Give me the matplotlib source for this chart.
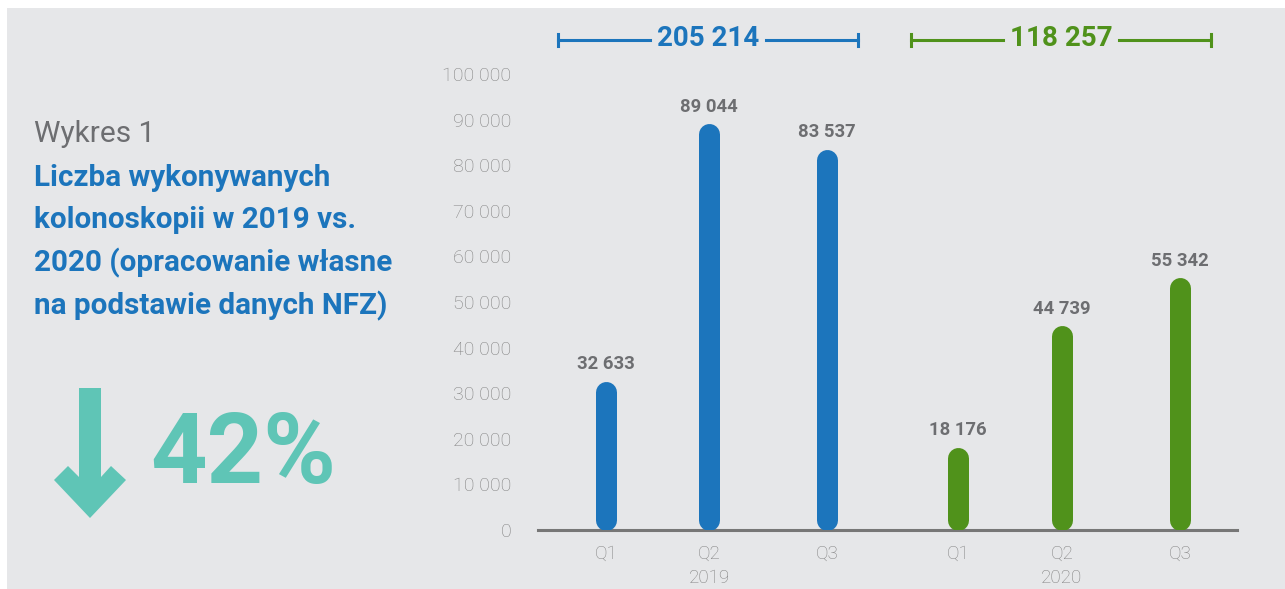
import matplotlib.pyplot as plt
from matplotlib.patches import Rectangle, Polygon

quarters = ['Q1', 'Q2', 'Q3', 'Q1', 'Q2', 'Q3']
years = ['2019', '2020']
values_2019 = [32633, 89044, 83537]
values_2020 = [18176, 44739, 55342]
totals = ['205 214', '118 257']
yticks = [0, 10000, 20000, 30000, 40000, 50000, 60000, 70000, 80000, 90000, 100000]

blue = '#1c75bc'
green = '#50921b'
teal = '#5fc5b6'
bg = '#e6e7e9'
grey = '#828282'

W, H = 1285, 589
fig = plt.figure(figsize=(W / 100, H / 100), dpi=100)
fig.patch.set_facecolor('white')
fig.patches.append(Rectangle((7 / W, 0), 1, (H - 8) / H, transform=fig.transFigure,
                             facecolor=bg, edgecolor='none', zorder=-10))

def fx(px):
    return px / W

def fy(py):
    return (H - py) / H

# main chart, x in pixel units
ax = fig.add_axes([fx(538), fy(530), fx(1237) - fx(538), fy(74) - fy(530)])
ax.set_zorder(5)
ax.set_facecolor('none')
ax.set_xlim(538, 1237)
ax.set_ylim(0, 100000)
pos = [606, 709, 827, 958, 1062, 1180]
bar_px = 21
r = (bar_px / 2) * 100000 / 456

vals = values_2019 + values_2020
cols = [blue] * 3 + [green] * 3
for x, v, c in zip(pos, vals, cols):
    ax.plot([x, x], [r, v - r], color=c, lw=bar_px * 0.72, solid_capstyle='round', zorder=3)
    ax.text(x, v + 3700, f'{v:,}'.replace(',', ' '), ha='center', va='center',
            fontsize=13.3, fontweight='bold', color='#6d6e71', family='Roboto')

for s in ['top', 'right', 'left']:
    ax.spines[s].set_visible(False)
ax.spines['bottom'].set_color('#777777')
ax.spines['bottom'].set_linewidth(2.2)
ax.set_yticks(yticks)
ax.set_yticklabels([f'{t:,}'.replace(',', ' ') for t in yticks], family='Roboto',
                   fontweight='light', fontsize=14, color=grey)
ax.tick_params(axis='y', length=0, pad=19)
ax.set_xticks(pos)
ax.set_xticklabels(quarters, family='Roboto', fontweight='light', fontsize=13.5, color=grey)
ax.tick_params(axis='x', length=0, pad=11)
for x, yr in zip([709, 1062], years):
    fig.text(fx(x), fy(578), yr, ha='center', va='center', family='Roboto',
             fontweight='light', fontsize=13.5, color=grey)

# brackets with totals
for (x0, x1), t, c in zip([(558, 858), (911, 1211)], totals, cols[::3]):
    xm = (x0 + x1) / 2
    fig.lines.append(plt.Line2D([fx(x0), fx(xm - 58)], [fy(40)] * 2, color=c, lw=2.2, transform=fig.transFigure))
    fig.lines.append(plt.Line2D([fx(xm + 58), fx(x1)], [fy(40)] * 2, color=c, lw=2.2, transform=fig.transFigure))
    for xe in (x0, x1):
        fig.lines.append(plt.Line2D([fx(xe)] * 2, [fy(34), fy(46)], color=c, lw=2.2, transform=fig.transFigure))
    fig.text(fx(xm), fy(39), t, ha='center', va='center', family='Roboto',
             fontweight='bold', fontsize=20, color=c)

# left side text
fig.text(fx(34), fy(134), 'Wykres 1', ha='left', va='center', family='Roboto',
         fontsize=21.5, color='#6d6e71')
title = ['Liczba wykonywanych', 'kolonoskopii w 2019 vs.', '2020 (opracowanie własne',
         'na podstawie danych NFZ)']
for i, line in enumerate(title):
    fig.text(fx(34), fy(178 + i * 42.5), line, ha='left', va='center', family='Roboto',
             fontweight='bold', fontsize=21.3, color=blue)

arrow = [(79, 388), (101, 388), (101, 477), (111, 466), (126, 480), (90, 518),
         (54, 480), (68, 466), (79, 477)]
fig.patches.append(Polygon([(fx(a), fy(b)) for a, b in arrow], closed=True,
                           transform=fig.transFigure, facecolor=teal, edgecolor='none'))
fig.text(fx(150), fy(456), '42%', ha='left', va='center', family='Roboto',
         fontweight='bold', fontsize=71, color=teal)

fig.savefig('out.png', dpi=100)
